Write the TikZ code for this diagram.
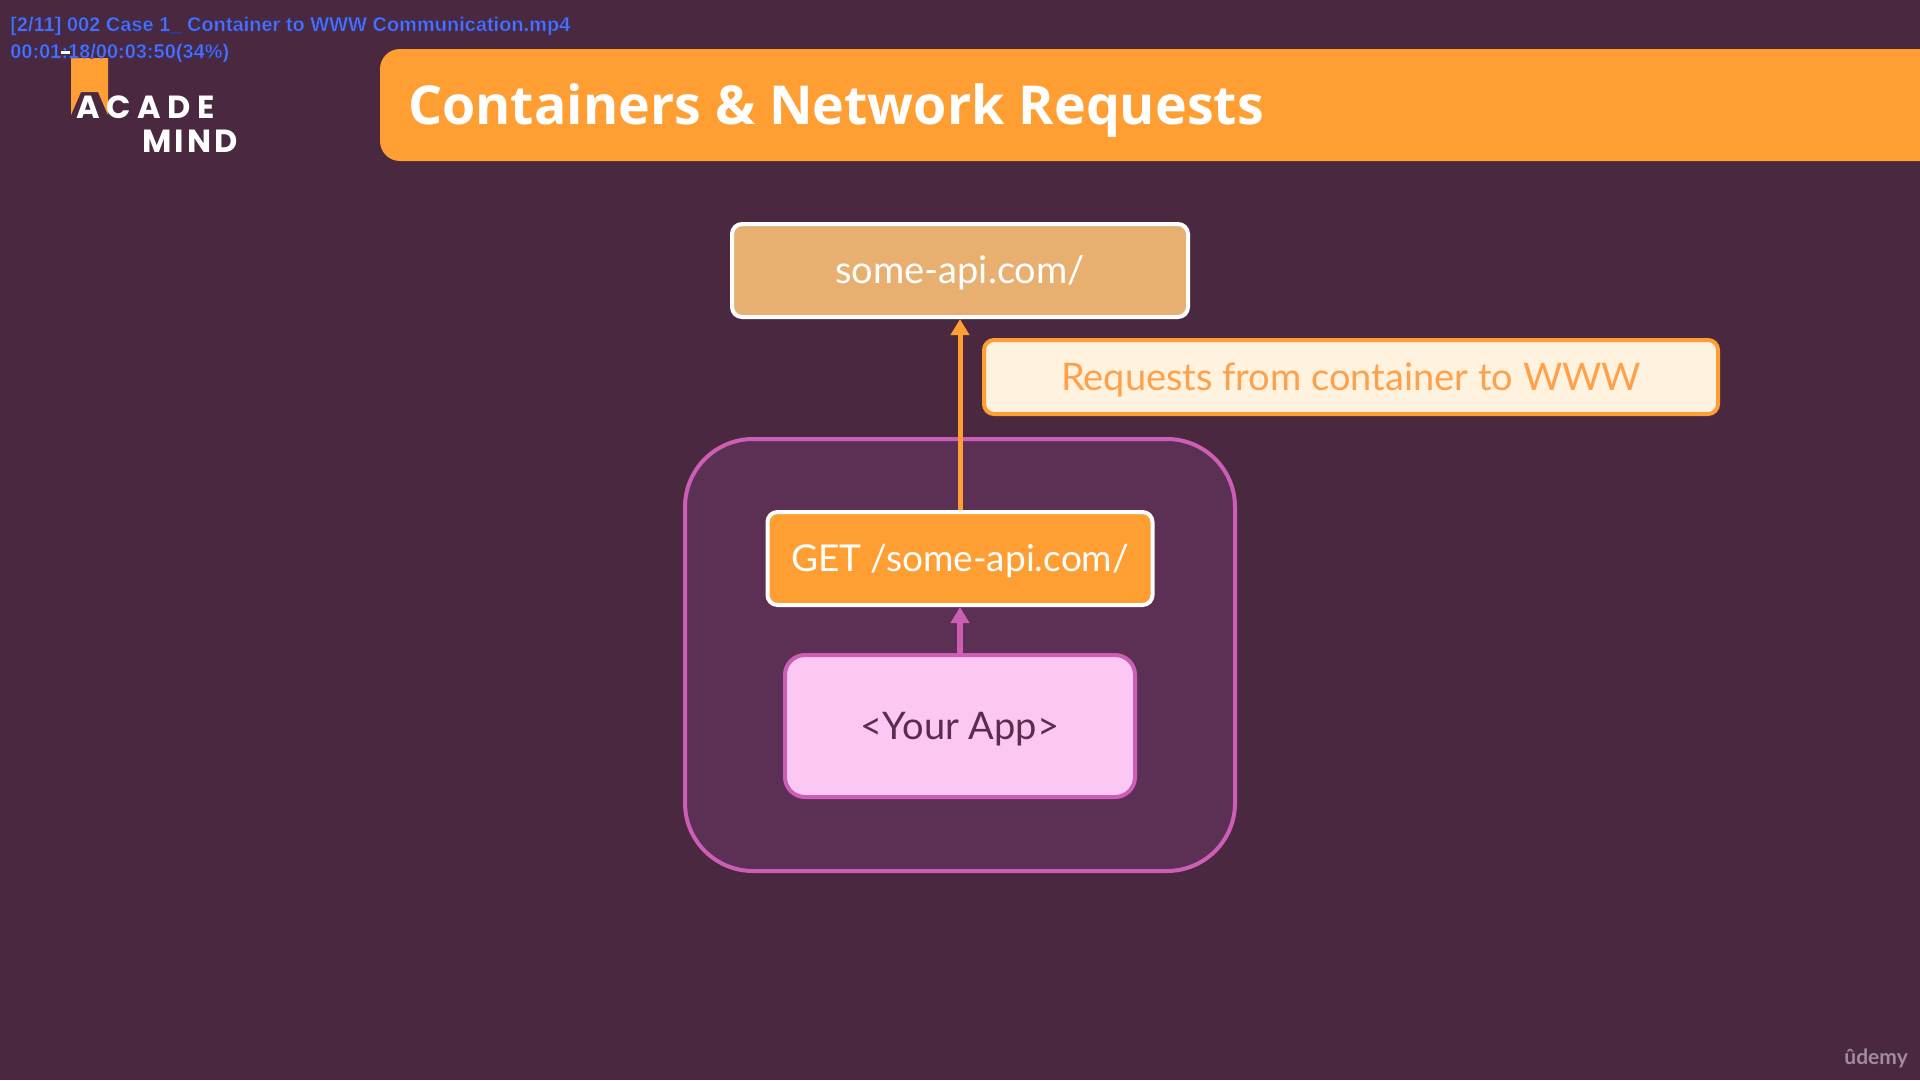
\documentclass[tikz,border=0pt]{standalone}
\usepackage{xcolor}
\usepackage{fontspec}
\usetikzlibrary{arrows.meta}
\setmainfont{Lato}
\newfontfamily\titlefont{Open Sans}
\newfontfamily\logofont[LetterSpace=21]{Poppins}
\newfontfamily\logotwofont[LetterSpace=10]{Poppins}
\newfontfamily\osdfont{Liberation Sans}

\definecolor{bgplum}{HTML}{4A283F}
\definecolor{bannerorange}{HTML}{FF9F33}
\definecolor{apifill}{HTML}{E8B070}
\definecolor{notefill}{HTML}{FFF3DF}
\definecolor{notetext}{HTML}{FFA04A}
\definecolor{boxfill}{HTML}{5C2F54}
\definecolor{boxpink}{HTML}{CC5FB5}
\definecolor{appfill}{HTML}{FCC8F3}
\definecolor{apptext}{HTML}{5A2D50}
\definecolor{osdblue}{HTML}{4F70F0}
\definecolor{udemygrey}{HTML}{A08CA0}

% outlined text of the player overlay
\newcommand{\osdline}[1]{\special{pdf:code 2 Tr 0.4 w 0.14 0.2 0.55 RG}#1\special{pdf:code 0 Tr}}

\tikzset{
    flowbox/.style={draw, line width=4pt, rounded corners=10pt, align=center, text height=31pt, text depth=5pt, font=\fontsize{38}{44}\selectfont},
    osdtext/.style={anchor=base west, inner sep=0pt, text=osdblue, font=\fontsize{20}{24}\osdfont\bfseries},
    orangearrow/.style={draw=bannerorange, line width=5pt, -{Triangle[length=16pt,width=18pt]}},
    pinkarrow/.style={draw=boxpink, line width=5.5pt, -{Triangle[length=16pt,width=18pt]}}
}

\begin{document}
\begin{tikzpicture}[x=1pt,y=-1pt]
    \useasboundingbox (0,0) rectangle (1920,1080);
    \fill[bgplum] (0,0) rectangle (1920,1080);

    % banner runs off the right edge
    \fill[bannerorange, rounded corners=20pt] (380,49) rectangle (1960,161);
    \node[anchor=base west, inner sep=0pt, text=white] (title) at (408,124) {\fontsize{53.7}{60}\titlefont\bfseries Containers \& Network Requests};

    % logo
    \fill[bannerorange] (71,58) -- (108,58) -- (108,115) -- (98,92) -- (81,92) -- (71,115) -- cycle;
    \node[anchor=base west, inner sep=0pt, text=white] (logoa) at (76,118) {\fontsize{32}{36}\logofont\bfseries ACADE};
    \node[anchor=base west, inner sep=0pt, text=white] (logob) at (142,152) {\fontsize{32}{36}\logotwofont\bfseries MIND};

    % player overlay
    \node[osdtext] (osdname) at (10,31) {\osdline{[2/11] 002 Case 1\char95\ Container to WWW Communication.mp4}};
    \node[osdtext] (osdtime) at (10,58) {\osdline{00:01:18/00:03:50(34\%)}};
    \fill[white] (61,51) rectangle (70,54);

    % container
    \node[draw=boxpink, fill=boxfill, line width=4pt, rounded corners=68pt, minimum width=550pt, minimum height=432pt] (container) at (960,655) {};

    \node[flowbox, draw=white, fill=apifill, text=white, minimum width=456pt, minimum height=93pt] (api) at (960,270.5) {some-api.com/};
    \node[flowbox, draw=bannerorange, fill=notefill, text=notetext, minimum width=734pt, minimum height=74pt] (note) at (1351,377) {Requests from container to WWW};
    \node[flowbox, draw=white, fill=bannerorange, text=white, font=\fontsize{37}{44}\selectfont, minimum width=385pt, minimum height=93pt] (get) at (960,558.5) {GET /some-api.com/};
    \node[flowbox, draw=boxpink, fill=appfill, text=apptext, rounded corners=20pt, minimum width=350pt, minimum height=142pt] (app) at (960,726) {<Your App>};

    \draw[orangearrow] (get.north) -- (api.south);
    \draw[pinkarrow] (app.north) -- (get.south);

    \node[anchor=base east, inner sep=0pt, text=udemygrey] (udemy) at (1908,1064) {\fontsize{21}{26}\selectfont\bfseries ûdemy};
\end{tikzpicture}
\end{document}
